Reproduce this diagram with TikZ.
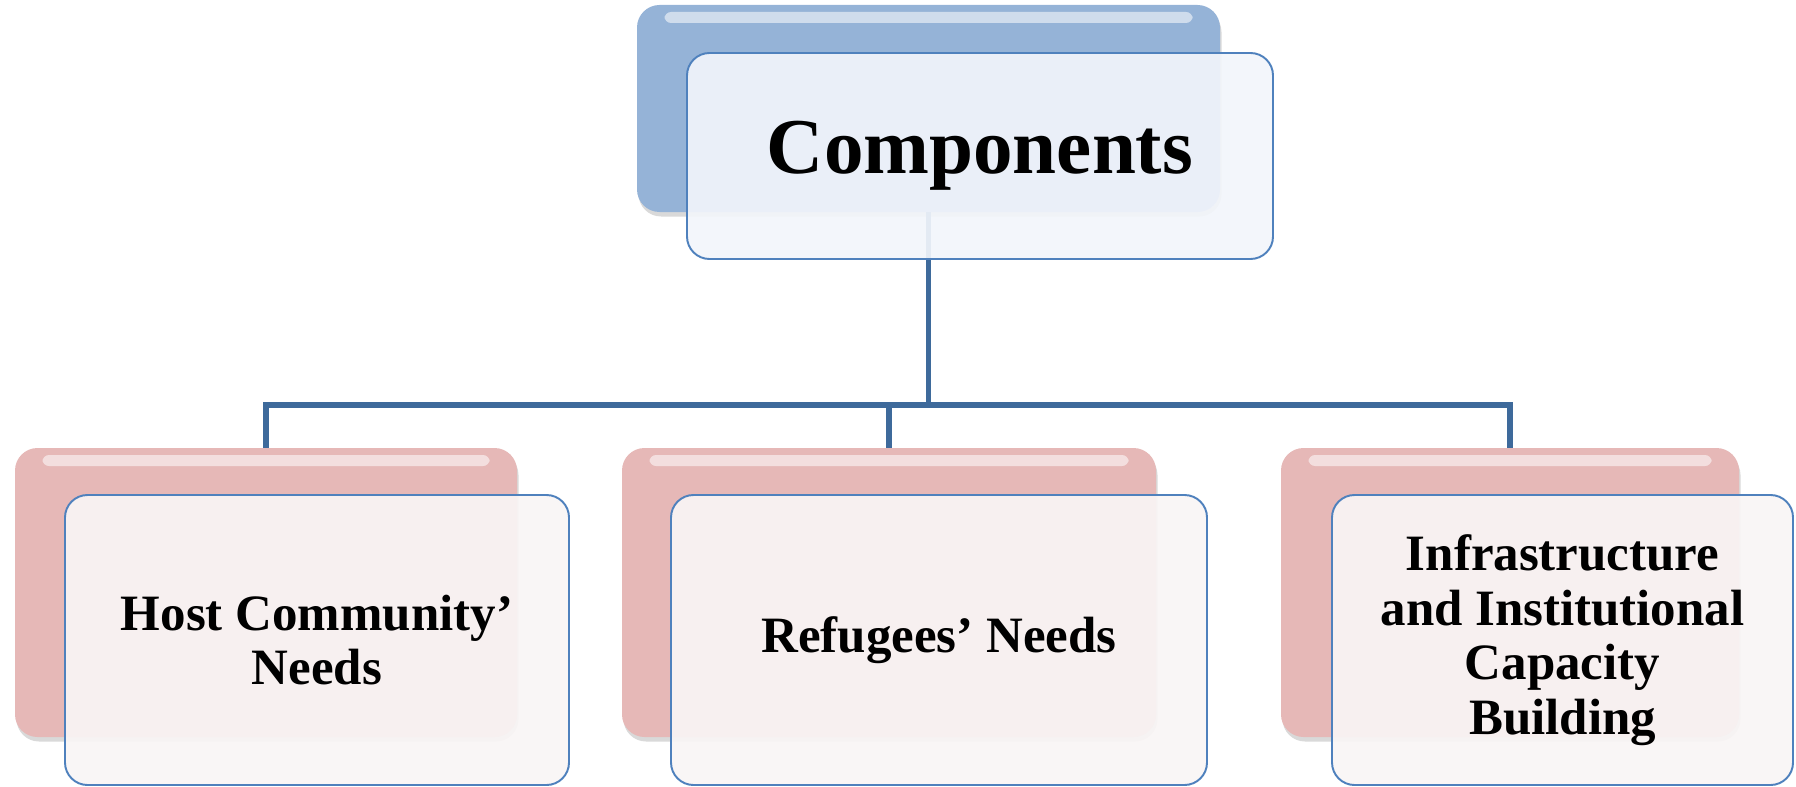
\documentclass[tikz,border=0pt]{standalone}
\usepackage{fontspec}
\setmainfont{Liberation Serif}
\usetikzlibrary{shadows}

\definecolor{backblue}{RGB}{149,179,215}
\definecolor{backpink}{RGB}{230,184,183}
\definecolor{frontline}{RGB}{79,129,189}
\definecolor{connblue}{RGB}{62,106,155}
\definecolor{frontblue}{RGB}{242,245,251}
\definecolor{frontpink}{RGB}{249,245,245}

\begin{document}
\begin{tikzpicture}[
    backbox/.style={rounded corners=0.45cm, inner sep=0pt,
      drop shadow={shadow xshift=0.03cm, shadow yshift=-0.09cm, opacity=0.3},
      path picture={
        \fill[white, opacity=0.55, rounded corners=0.13cm]
          ([xshift=0.55cm, yshift=-0.14cm]path picture bounding box.north west) rectangle
          ([xshift=-0.55cm, yshift=-0.36cm]path picture bounding box.north east);
      }},
    frontbox/.style={draw=frontline, line width=1.1pt, rounded corners=0.45cm,
      fill opacity=0.92, text opacity=1, inner sep=0pt, align=center,
      font=\bfseries\fontsize{29}{31}\selectfont},
    conn/.style={draw=connblue, line width=3.3pt, line join=miter}]

  \useasboundingbox (0,0) rectangle (35.92,15.72);

  % back boxes
  \node[backbox, fill=backblue, minimum width=11.66cm, minimum height=4.14cm] (n1) at (18.57,13.55) {};
  \node[backbox, fill=backpink, minimum width=10.04cm, minimum height=5.78cm] (n11) at (5.32,3.87) {};
  \node[backbox, fill=backpink, minimum width=10.68cm, minimum height=5.78cm] (n12) at (17.78,3.87) {};
  \node[backbox, fill=backpink, minimum width=9.16cm, minimum height=5.78cm] (n13) at (30.2,3.87) {};

  % connectors
  \coordinate (bus) at (18.57,7.62);
  \draw[conn] (n1.south) -- (bus);
  \draw[conn] (bus) -| (n11.north);
  \draw[conn] (bus) -| (n12.north);
  \draw[conn] (bus) -| (n13.north);

  % front boxes
  \node[frontbox, fill=frontblue, minimum width=11.72cm, minimum height=4.12cm,
    font=\bfseries\fontsize{45}{48}\selectfont] (n1bis) at (19.6,12.6) {Components};
  \node[frontbox, fill=frontpink, minimum width=10.08cm, minimum height=5.8cm] (n11bis) at (6.34,2.92)
    {Host Community'\\Needs};
  \node[frontbox, fill=frontpink, minimum width=10.72cm, minimum height=5.8cm] (n12bis) at (18.78,2.92)
    {Refugees' Needs};
  \node[frontbox, fill=frontpink, minimum width=9.22cm, minimum height=5.8cm] (n13bis) at (31.25,2.92)
    {Infrastructure\\and Institutional\\Capacity\\Building};
\end{tikzpicture}
\end{document}
